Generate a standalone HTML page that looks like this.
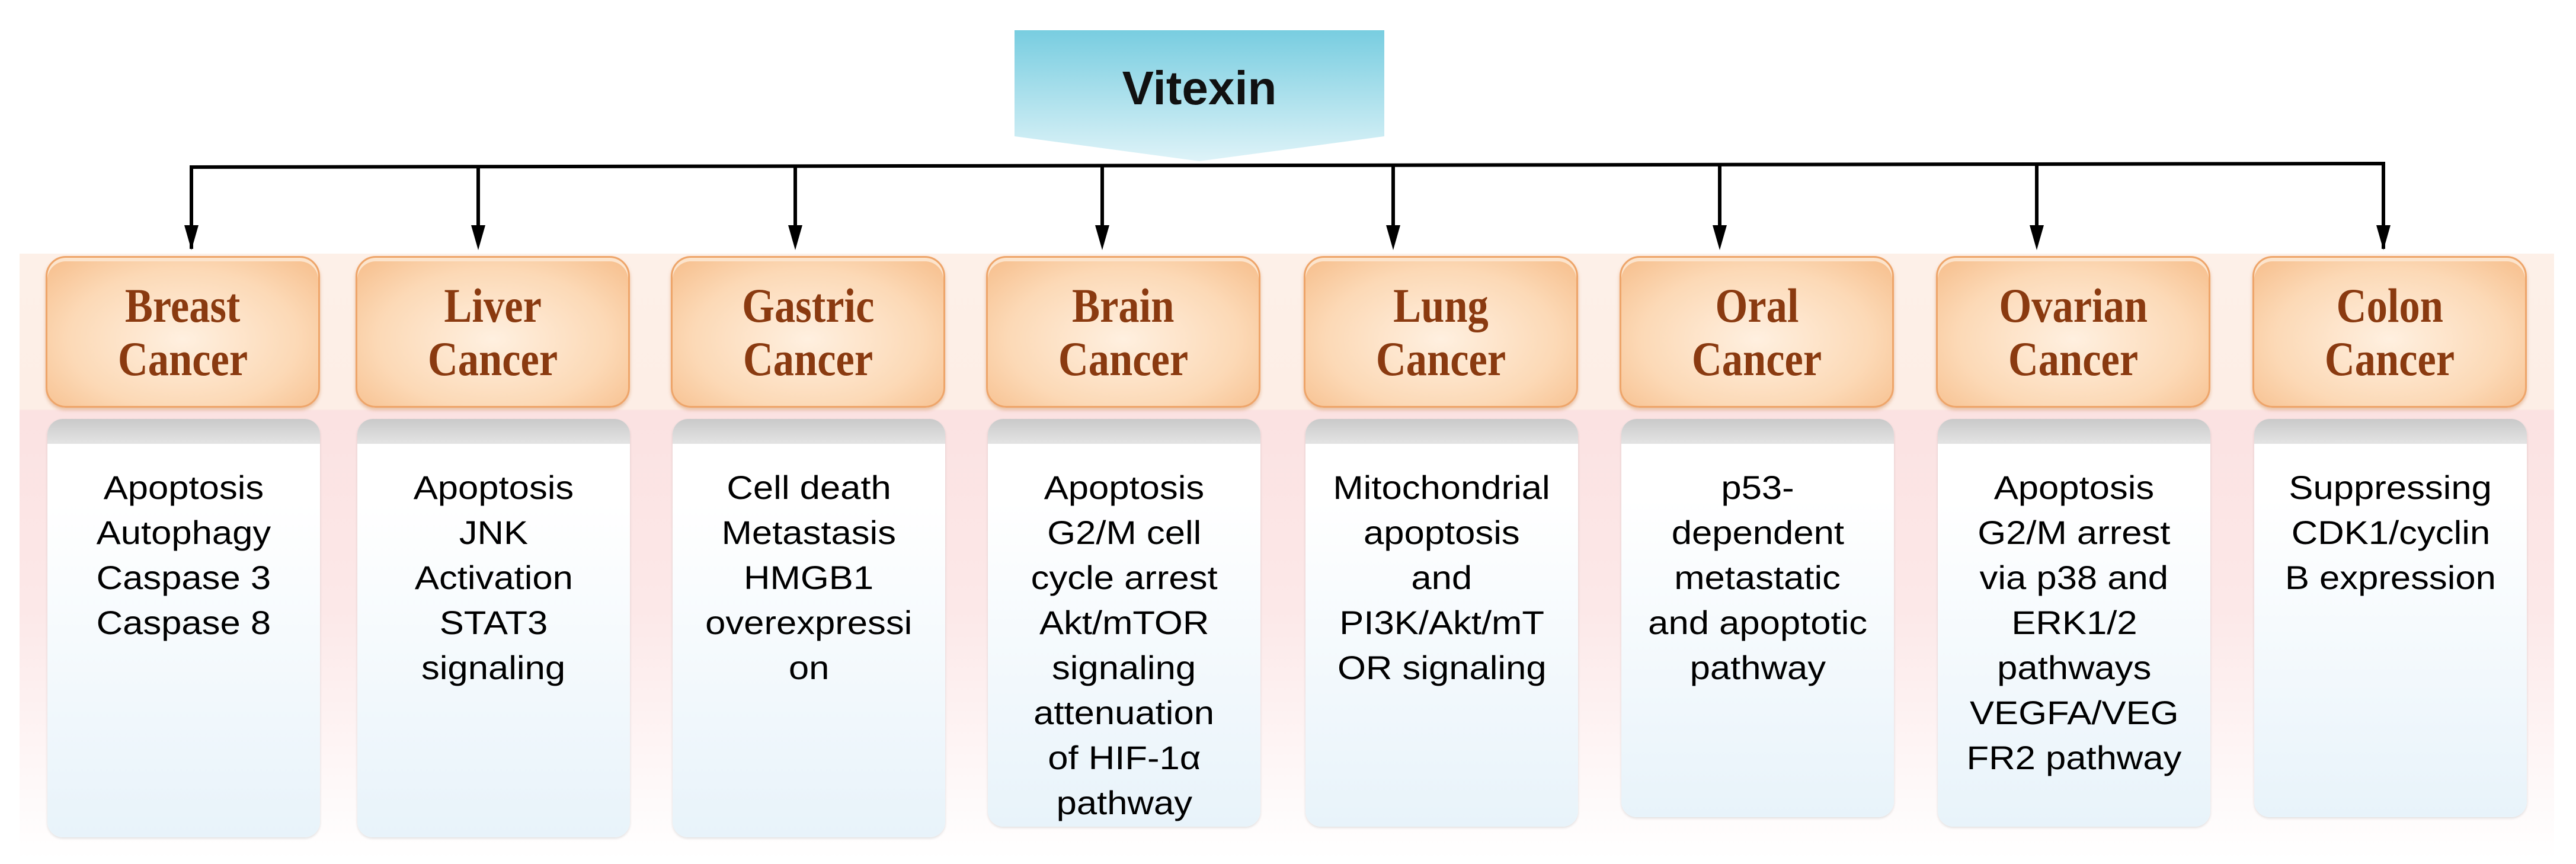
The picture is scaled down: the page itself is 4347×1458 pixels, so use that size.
<!DOCTYPE html>
<html><head><meta charset="utf-8"><style>
body{margin:0;width:4347px;height:1458px;background:#fff;position:relative;overflow:hidden;font-family:"Liberation Sans",sans-serif}
.band{position:absolute;left:33px;top:428px;width:4277px;height:1022px;background:linear-gradient(#fdf0e8 0px,#fdeee6 262px,#fbe2e2 265px,#fce8e8 600px,#fff 1022px)}
.ob{position:absolute;top:432px;width:463px;height:256px;border-radius:34px;box-sizing:border-box;border:3px solid #eea56a;background:radial-gradient(ellipse at 50% 55%,#fff0e0 0%,#fcd9b6 60%,#f6bd8a 100%);box-shadow:0 4px 6px rgba(200,120,60,.4),inset 0 6px 0 #fce4cc;text-align:center;font-family:"Liberation Serif",serif;font-weight:bold;color:#8a3a10;font-size:82px;line-height:90px;padding-top:36px}
.ob span{display:inline-block;transform:scaleX(.86)}
.wb{position:absolute;top:707px;width:460px;border-radius:26px;overflow:hidden;background:linear-gradient(#fff 20%,#e8f3fa 100%);box-shadow:0 2px 4px rgba(0,0,0,.12)}
.wb .h{height:42px;background:linear-gradient(#c9c9c9,#e4e4e4)}
.wb .t{text-align:center;font-size:56px;line-height:76px;color:#000;padding-top:36px}
.wb .t span{display:inline-block;transform:scaleX(1.1)}
</style></head><body>
<div class="band"></div>
<svg width="4347" height="1458" style="position:absolute;left:0;top:0">
<defs><linearGradient id="g" x1="0" y1="0" x2="0" y2="1"><stop offset="0" stop-color="#78cde0"/><stop offset="1" stop-color="#def3f8"/></linearGradient></defs>
<polygon points="1712,51 2336,51 2336,230 2024,272 1712,230" fill="url(#g)"/>
<text x="2024" y="176" text-anchor="middle" font-family="Liberation Sans" font-weight="bold" font-size="80" fill="#111">Vitexin</text>
<polyline points="323,420 323,282 4022,276 4022,420" fill="none" stroke="#000" stroke-width="6"/>
<g stroke="#000" stroke-width="6">
<line x1="807" y1="282" x2="807" y2="400"/><line x1="1342" y1="281" x2="1342" y2="400"/><line x1="1860" y1="280" x2="1860" y2="400"/><line x1="2351" y1="279" x2="2351" y2="400"/><line x1="2902" y1="278" x2="2902" y2="400"/><line x1="3437" y1="277" x2="3437" y2="400"/>
</g>
<g fill="#000">
<polygon points="311,380 335,380 323,422"/><polygon points="795,380 819,380 807,422"/><polygon points="1330,380 1354,380 1342,422"/><polygon points="1848,380 1872,380 1860,422"/><polygon points="2339,380 2363,380 2351,422"/><polygon points="2890,380 2914,380 2902,422"/><polygon points="3425,380 3449,380 3437,422"/><polygon points="4010,380 4034,380 4022,422"/>
</g>
</svg>
<div class="ob" style="left:77px"><span>Breast</span><br><span>Cancer</span></div>
<div class="ob" style="left:600px"><span>Liver</span><br><span>Cancer</span></div>
<div class="ob" style="left:1132px"><span>Gastric</span><br><span>Cancer</span></div>
<div class="ob" style="left:1664px"><span>Brain</span><br><span>Cancer</span></div>
<div class="ob" style="left:2200px"><span>Lung</span><br><span>Cancer</span></div>
<div class="ob" style="left:2733px"><span>Oral</span><br><span>Cancer</span></div>
<div class="ob" style="left:3267px"><span>Ovarian</span><br><span>Cancer</span></div>
<div class="ob" style="left:3801px"><span>Colon</span><br><span>Cancer</span></div>
<div class="wb" style="left:80px;height:706px"><div class="h"></div><div class="t"><span>Apoptosis</span><br><span>Autophagy</span><br><span>Caspase 3</span><br><span>Caspase 8</span></div></div>
<div class="wb" style="left:603px;height:706px"><div class="h"></div><div class="t"><span>Apoptosis</span><br><span>JNK</span><br><span>Activation</span><br><span>STAT3</span><br><span>signaling</span></div></div>
<div class="wb" style="left:1135px;height:706px"><div class="h"></div><div class="t"><span>Cell death</span><br><span>Metastasis</span><br><span>HMGB1</span><br><span>overexpressi</span><br><span>on</span></div></div>
<div class="wb" style="left:1667px;height:688px"><div class="h"></div><div class="t"><span>Apoptosis</span><br><span>G2/M cell</span><br><span>cycle arrest</span><br><span>Akt/mTOR</span><br><span>signaling</span><br><span>attenuation</span><br><span>of HIF-1α</span><br><span>pathway</span></div></div>
<div class="wb" style="left:2203px;height:688px"><div class="h"></div><div class="t"><span>Mitochondrial</span><br><span>apoptosis</span><br><span>and</span><br><span>PI3K/Akt/mT</span><br><span>OR signaling</span></div></div>
<div class="wb" style="left:2736px;height:672px"><div class="h"></div><div class="t"><span>p53-</span><br><span>dependent</span><br><span>metastatic</span><br><span>and apoptotic</span><br><span>pathway</span></div></div>
<div class="wb" style="left:3270px;height:688px"><div class="h"></div><div class="t"><span>Apoptosis</span><br><span>G2/M arrest</span><br><span>via p38 and</span><br><span>ERK1/2</span><br><span>pathways</span><br><span>VEGFA/VEG</span><br><span>FR2 pathway</span></div></div>
<div class="wb" style="left:3804px;height:672px"><div class="h"></div><div class="t"><span>Suppressing</span><br><span>CDK1/cyclin</span><br><span>B expression</span></div></div>
</body></html>
